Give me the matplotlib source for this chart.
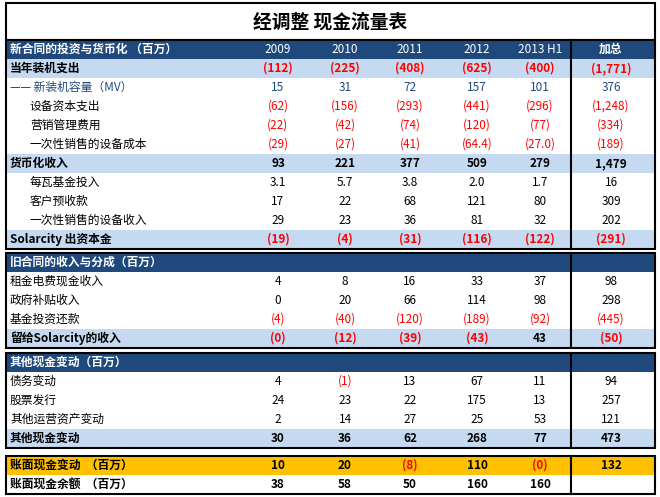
import matplotlib
matplotlib.use("Agg")
import matplotlib.pyplot as plt
from matplotlib.patches import Rectangle

plt.rcParams['font.family'] = ['Noto Sans CJK SC', 'DejaVu Sans']

title = "经调整 现金流量表"
years = ["2009", "2010", "2011", "2012", "2013 H1"]
total_label = "加总"

sec1_header = "新合同的投资与货币化 （百万）"
sec1_labels = ["当年装机支出", "—— 新装机容量（MV）", "设备资本支出", "营销管理费用", "一次性销售的设备成本",
               "货币化收入", "每瓦基金投入", "客户预收款", "一次性销售的设备收入", "Solarcity 出资本金"]
sec1_values = [["(112)", "(225)", "(408)", "(625)", "(400)", "(1,771)"],
               ["15", "31", "72", "157", "101", "376"],
               ["(62)", "(156)", "(293)", "(441)", "(296)", "(1,248)"],
               ["(22)", "(42)", "(74)", "(120)", "(77)", "(334)"],
               ["(29)", "(27)", "(41)", "(64.4)", "(27.0)", "(189)"],
               ["93", "221", "377", "509", "279", "1,479"],
               ["3.1", "5.7", "3.8", "2.0", "1.7", "16"],
               ["17", "22", "68", "121", "80", "309"],
               ["29", "23", "36", "81", "32", "202"],
               ["(19)", "(4)", "(31)", "(116)", "(122)", "(291)"]]
sec1_style = ["bold", "blueit", "ind", "ind", "ind", "bold", "it", "ind", "ind", "bold"]

sec2_header = "旧合同的收入与分成（百万）"
sec2_labels = ["租金电费现金收入", "政府补贴收入", "基金投资还款", "留给Solarcity的收入"]
sec2_values = [["4", "8", "16", "33", "37", "98"],
               ["0", "20", "66", "114", "98", "298"],
               ["(4)", "(40)", "(120)", "(189)", "(92)", "(445)"],
               ["(0)", "(12)", "(39)", "(43)", "43", "(50)"]]
sec2_style = ["n", "n", "n", "bold"]

sec3_header = "其他现金变动（百万）"
sec3_labels = ["债务变动", "股票发行", "其他运营资产变动", "其他现金变动"]
sec3_values = [["4", "(1)", "13", "67", "11", "94"],
               ["24", "23", "22", "175", "13", "257"],
               ["2", "14", "27", "25", "53", "121"],
               ["30", "36", "62", "268", "77", "473"]]
sec3_style = ["n", "n", "n", "bold"]

sec4_labels = ["账面现金变动  （百万）", "账面现金余额  （百万）"]
sec4_values = [["10", "20", "(8)", "110", "(0)", "132"],
               ["38", "58", "50", "160", "160", ""]]

DARK = "#1F497D"
LIGHT = "#C5D9F1"
YELLOW = "#FFC000"
RED = "#FF0000"
colx = [278, 345, 410, 477, 540, 611]
L, R, SEP = 6, 655, 571
RH = 19
FS = 8.5

fig = plt.figure(figsize=(6.6, 4.97), dpi=100)
ax = fig.add_axes([0, 0, 1, 1])
ax.set_xlim(0, 660)
ax.set_ylim(497, 0)
ax.axis('off')

def rect(x0, y0, x1, y1, fc="none", ec="none", lw=0):
    ax.add_patch(Rectangle((x0, y0), x1 - x0, y1 - y0, facecolor=fc, edgecolor=ec, linewidth=lw))

# title
rect(L, 3, R, 40, fc="white", ec="black", lw=1.5)
ax.text(330, 22, title, ha="center", va="center", fontsize=13.5, fontweight="bold")

def section(top, header, labels, values, styles, show_years=False):
    rect(L, top, R, top + RH, fc=DARK)
    ax.text(L + 4, top + RH / 2, header, ha="left", va="center", color="white", fontsize=FS, fontweight="bold")
    if show_years:
        for x, yv in zip(colx, years + [total_label]):
            ax.text(x, top + RH / 2, yv, ha="center", va="center", color="white", fontsize=FS,
                    fontweight="bold" if yv == total_label else "normal")
    for i, (lab, vals, st) in enumerate(zip(labels, values, styles)):
        y0 = top + RH * (i + 1)
        yc = y0 + RH / 2
        bold = st == "bold"
        if bold:
            rect(L, y0, R, y0 + RH, fc=LIGHT)
        indent = 24 if st in ("ind", "it") else 4
        col = DARK if st == "blueit" else "black"
        style = "italic" if st in ("blueit", "it") else "normal"
        ax.text(L + indent, yc, lab, ha="left", va="center", fontsize=FS, color=col, style=style,
                fontweight="bold" if bold else "normal")
        for x, v in zip(colx, vals):
            c = RED if v.startswith("(") else col
            ax.text(x, yc, v, ha="center", va="center", fontsize=FS, color=c, style=style,
                    fontweight="bold" if bold else "normal")
    bottom = top + RH * (len(labels) + 1)
    rect(L, top, R, bottom, ec="black", lw=1.5)
    ax.plot([SEP, SEP], [top, bottom], color="black", lw=1.5)
    return bottom

section(40, sec1_header, sec1_labels, sec1_values, sec1_style, show_years=True)
section(253, sec2_header, sec2_labels, sec2_values, sec2_style)
section(353, sec3_header, sec3_labels, sec3_values, sec3_style)

top4 = 456
rect(L, top4, R, top4 + RH, fc=YELLOW)
for i, (lab, vals) in enumerate(zip(sec4_labels, sec4_values)):
    yc = top4 + RH * i + RH / 2
    ax.text(L + 4, yc, lab, ha="left", va="center", fontsize=FS, fontweight="bold")
    for x, v in zip(colx, vals):
        ax.text(x, yc, v, ha="center", va="center", fontsize=FS, fontweight="bold",
                color=RED if v.startswith("(") else "black")
rect(L, top4, R, top4 + 2 * RH, ec="black", lw=1.5)
ax.plot([SEP, SEP], [top4, top4 + 2 * RH], color="black", lw=1.5)

fig.savefig("out.png", dpi=100)
